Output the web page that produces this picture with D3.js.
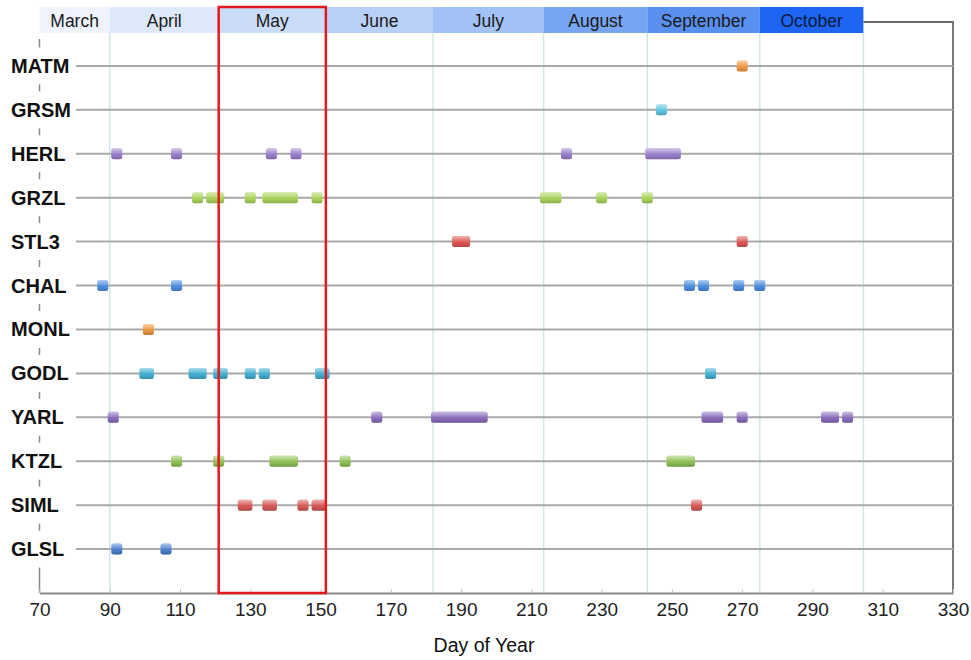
<!DOCTYPE html>
<html>
<head>
<meta charset="utf-8">
<script src="https://cdn.jsdelivr.net/npm/d3@7"></script>
<style>
  body { margin: 0; background: #fff; }
  svg text { font-family: "Liberation Sans", Arial, Helvetica, sans-serif; }
</style>
</head>
<body>
<svg id="chart" width="971" height="660"></svg>
<script>
// ──────────────────────
// Data
// ──────────────────────
const sites = ["MATM", "GRSM", "HERL", "GRZL", "STL3", "CHAL", "MONL", "GODL", "YARL", "KTZL", "SIML", "GLSL"];
const siteColors = ["#f09a45", "#5cc6e2", "#9a7fcc", "#a9d65c", "#de5551", "#4d8fe0", "#f0953f", "#45b0d2", "#8a6bbd", "#8fc154", "#d65a56", "#4a7fd0"];

const matmDays = [270];
const grsmDays = [247];
const herlDays = [92, 109, 136, 143, 220, 244, 245, 246, 248, 249, 251];
const grzlDays = [115, 119, 121, 130, 135, 136, 137, 138, 139, 140, 141, 142, 149, 214, 215, 216, 217, 230, 243];
const stl3Days = [189, 190, 191, 270];
const chalDays = [88, 109, 255, 259, 269, 275];
const monlDays = [101];
const godlDays = [100, 101, 114, 116, 121, 122, 130, 134, 150, 151, 261];
const yarlDays = [91, 166, 183, 185, 187, 188, 190, 192, 194, 196, 260, 261, 262, 263, 270, 294, 296, 300];
const ktzlDays = [109, 121, 137, 138, 139, 140, 141, 142, 157, 250, 251, 252, 253, 254, 255];
const simlDays = [128, 129, 135, 136, 145, 149, 150, 257];
const glslDays = [92, 106];

const months = ["March", "April", "May", "June", "July", "August", "September", "October"];
const monthEdges = [70, 90, 121, 151.5, 182, 213.5, 243, 275, 304.5];
const monthColors = ["#eef3fd", "#dde8fb", "#cadcf8", "#b8cff7", "#a2c1f5", "#77a5f1", "#5990f0", "#1d65f2"];
const xTicks = [70, 90, 110, 130, 150, 170, 190, 210, 230, 250, 270, 290, 310, 330];
const highlightMonth = "May";

const daysBySite = [matmDays, grsmDays, herlDays, grzlDays, stl3Days, chalDays,
  monlDays, godlDays, yarlDays, ktzlDays, simlDays, glslDays];

// group consecutive detections (gap <= 2 days) into one run so the marks merge
const runs = [];
sites.forEach((s, i) => {
  const days = daysBySite[i].slice().sort((a, b) => a - b);
  let cur = null;
  days.forEach(d => {
    if (cur && d - cur.end <= 2) cur.end = d;
    else { cur = { site: s, start: d, end: d }; runs.push(cur); }
  });
});

// ──────────────────────
// Layout & scales
// ──────────────────────
const svg = d3.select("#chart");
const margin = { top: 22, right: 18, bottom: 67, left: 39.5 };
const width = 971, height = 660;
const plotBottom = height - margin.bottom;   // 593
const plotRight = width - margin.right;      // 953

const x = d3.scaleLinear().domain([70, 330]).range([margin.left, plotRight]);
const y = d3.scalePoint().domain(sites).range([margin.top, plotBottom]).padding(1);
const color = d3.scaleOrdinal().domain(sites).range(siteColors);

const defs = svg.append("defs");
const gloss = defs.append("linearGradient").attr("id", "gloss")
  .attr("x1", 0).attr("y1", 0).attr("x2", 0).attr("y2", 1);
gloss.append("stop").attr("offset", "0%").attr("stop-color", "#fff").attr("stop-opacity", 0.55);
gloss.append("stop").attr("offset", "45%").attr("stop-color", "#fff").attr("stop-opacity", 0.12);
gloss.append("stop").attr("offset", "60%").attr("stop-color", "#000").attr("stop-opacity", 0);
gloss.append("stop").attr("offset", "100%").attr("stop-color", "#000").attr("stop-opacity", 0.2);

// ──────────────────────
// Month header band
// ──────────────────────
const headerTop = 7, headerBottom = 33;
const header = svg.append("g");
months.forEach((m, i) => {
  const x0 = x(monthEdges[i]), x1 = x(monthEdges[i + 1]);
  header.append("rect")
    .attr("x", x0).attr("y", headerTop)
    .attr("width", x1 - x0).attr("height", headerBottom - headerTop)
    .attr("fill", monthColors[i]);
  header.append("text")
    .attr("x", (x0 + x1) / 2).attr("y", 26.5)
    .attr("text-anchor", "middle")
    .attr("font-size", "17.5px")
    .attr("fill", i === months.length - 1 ? "#0b1a3c" : "#1a1a1a")
    .text(m);
});

// month boundary lines
svg.append("g").selectAll("line")
  .data(monthEdges.slice(1))
  .join("line")
  .attr("x1", d => x(d)).attr("x2", d => x(d))
  .attr("y1", headerBottom).attr("y2", plotBottom)
  .attr("stroke", "#cfe7e6").attr("stroke-width", 1.5);

// ──────────────────────
// Frame & axes
// ──────────────────────
const lastEdge = x(monthEdges[monthEdges.length - 1]);
svg.append("path")
  .attr("d", `M${lastEdge},${margin.top}H${plotRight}V${plotBottom}`)
  .attr("fill", "none").attr("stroke", "#6a6a6a").attr("stroke-width", 1.8);

// row lines
svg.append("g").selectAll("line")
  .data(sites)
  .join("line")
  .attr("x1", 76).attr("x2", plotRight)
  .attr("y1", d => y(d)).attr("y2", d => y(d))
  .attr("stroke", "#a9a9a9").attr("stroke-width", 2);

// y axis line, mostly hidden behind label backgrounds
svg.append("line")
  .attr("x1", margin.left).attr("x2", margin.left)
  .attr("y1", 39).attr("y2", plotBottom)
  .attr("stroke", "#8a8a8a").attr("stroke-width", 1.5);

const step = y.step();
svg.append("g").selectAll("rect")
  .data(sites)
  .join("rect")
  .attr("x", 8).attr("width", 66)
  .attr("y", d => y(d) - step / 2 + 3.5)
  .attr("height", step - 7)
  .attr("fill", "#fff");

svg.append("g").selectAll("text")
  .data(sites)
  .join("text")
  .attr("x", 11).attr("y", d => y(d) + 7)
  .attr("font-size", "20px").attr("font-weight", "bold")
  .attr("fill", "#111")
  .text(d => d);

// bottom axis
const xAxis = svg.append("g")
  .attr("transform", `translate(0,${plotBottom})`)
  .call(d3.axisBottom(x).tickValues(xTicks).tickSizeInner(-4).tickSizeOuter(0).tickPadding(10));
xAxis.select(".domain").attr("stroke", "#8a8a8a").attr("stroke-width", 2);
xAxis.selectAll(".tick line").attr("stroke", "#c8c8c8");
xAxis.selectAll(".tick text")
  .attr("font-size", "19px").attr("fill", "#222")
  .attr("font-family", "'Liberation Sans', Arial, sans-serif");

svg.append("text")
  .attr("x", 484).attr("y", 652)
  .attr("text-anchor", "middle")
  .attr("font-size", "19.5px").attr("fill", "#111")
  .text("Day of Year");

// ──────────────────────
// Detection marks
// ──────────────────────
const mw = 11, mh = 11;
const markG = svg.append("g");
markG.selectAll("rect.fill")
  .data(runs)
  .join("rect")
  .attr("class", "fill")
  .attr("x", d => x(d.start) - mw / 2).attr("y", d => y(d.site) - mh / 2)
  .attr("width", d => x(d.end) - x(d.start) + mw).attr("height", mh).attr("rx", 2.5)
  .attr("fill", d => color(d.site));
markG.selectAll("rect.gloss")
  .data(runs)
  .join("rect")
  .attr("class", "gloss")
  .attr("x", d => x(d.start) - mw / 2).attr("y", d => y(d.site) - mh / 2)
  .attr("width", d => x(d.end) - x(d.start) + mw).attr("height", mh).attr("rx", 2.5)
  .attr("fill", "url(#gloss)");

// ──────────────────────
// Highlighted month box
// ──────────────────────
const hi = months.indexOf(highlightMonth);
svg.append("rect")
  .attr("x", x(monthEdges[hi])).attr("y", headerTop)
  .attr("width", x(monthEdges[hi + 1]) - x(monthEdges[hi]))
  .attr("height", plotBottom - headerTop)
  .attr("fill", "none").attr("stroke", "#e3191c").attr("stroke-width", 2.5);
</script>
</body>
</html>
